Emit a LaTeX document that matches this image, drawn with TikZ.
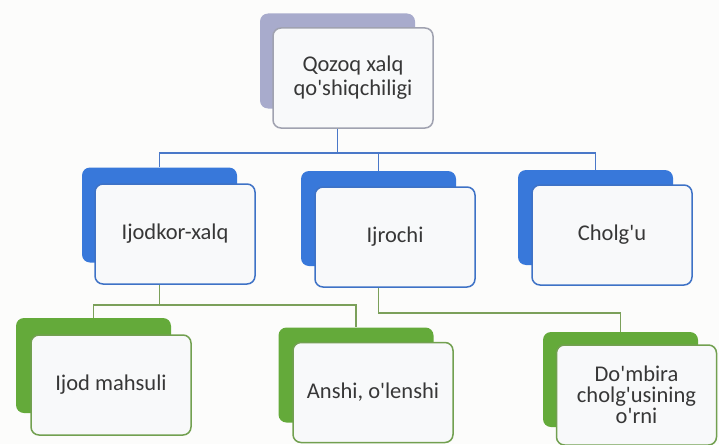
\documentclass[tikz,border=0pt]{standalone}
\usepackage{fontspec}
\setmainfont{Carlito}
\definecolor{paper}{RGB}{252,252,251}
\definecolor{topback}{RGB}{168,171,204}
\definecolor{blueback}{RGB}{56,120,218}
\definecolor{greenback}{RGB}{100,170,58}
\definecolor{frontfill}{RGB}{248,249,250}
\definecolor{topedge}{RGB}{160,162,176}
\definecolor{blueedge}{RGB}{62,114,198}
\definecolor{greenedge}{RGB}{114,160,80}
\definecolor{txt}{RGB}{55,55,55}
\definecolor{linkblue}{RGB}{74,120,200}
\definecolor{linkgreen}{RGB}{123,160,90}
\newcommand{\q}{\textquotesingle}
\begin{document}
\begin{tikzpicture}[x=1pt,y=-1pt,
   back/.style={rectangle,rounded corners=8pt,minimum width=155pt,minimum height=95pt,inner sep=0pt},
   front/.style={rectangle,rounded corners=8pt,draw,line width=1.5pt,fill=frontfill,minimum width=160pt,
                 minimum height=100pt,inner sep=2pt,align=center,text=txt,font=\fontsize{22.5}{24}\selectfont},
   bline/.style={draw=linkblue,line width=1.5pt},
   gline/.style={draw=linkgreen,line width=1.5pt}]

  \fill[paper] (0,0) rectangle (719,444);
  \useasboundingbox (0,0) rectangle (719,444);

  % back boxes
  \node[back,fill=topback] (top-bk) at (337.5,61) {};
  \node[back,fill=blueback] (ijodkor-bk) at (159.5,215) {};
  \node[back,fill=blueback] (ijrochi-bk) at (378.5,218.5) {};
  \node[back,fill=blueback] (cholgu-bk) at (595.5,217.5) {};
  \node[back,fill=greenback] (ijod-bk) at (93.5,365.5) {};
  \node[back,fill=greenback] (anshi-bk) at (356,375) {};
  \node[back,fill=greenback] (dombira-bk) at (620.5,379.5) {};

  % front boxes
  \node[front,draw=topedge] (top) at (353,78) {Qozoq xalq\\qo\q shiqchiligi};
  \node[front,draw=blueedge] (ijodkor) at (175,234) {Ijodkor-xalq};
  \node[front,draw=blueedge] (ijrochi) at (395,237) {Ijrochi};
  \node[front,draw=blueedge] (cholgu) at (612,235) {Cholg\q u};
  \node[front,draw=greenedge] (ijod) at (111,385) {Ijod mahsuli};
  \node[front,draw=greenedge] (anshi) at (373,392.5) {Anshi, o\q lenshi};
  \node[front,draw=greenedge,font=\fontsize{22.5}{21}\selectfont] (dombira) at (636.5,395) {Do\q mbira\\cholg\q usining\\o\q rni};

  % connectors
  \draw[bline] (top-bk |- top.south) -- ++(0,24) -| (ijodkor-bk.north);
  \draw[bline] (top-bk |- top.south) -- ++(0,24) -| (ijrochi-bk.north);
  \draw[bline] (top-bk |- top.south) -- ++(0,24) -| (cholgu-bk.north);
  \draw[gline] (ijodkor-bk |- ijodkor.south) -- ++(0,20) -| (ijod-bk.north);
  \draw[gline] (ijodkor-bk |- ijodkor.south) -- ++(0,20) -| (anshi-bk.north);
  \draw[gline] (ijrochi-bk |- ijrochi.south) -- ++(0,25) -| (dombira-bk.north);

\end{tikzpicture}
\end{document}
